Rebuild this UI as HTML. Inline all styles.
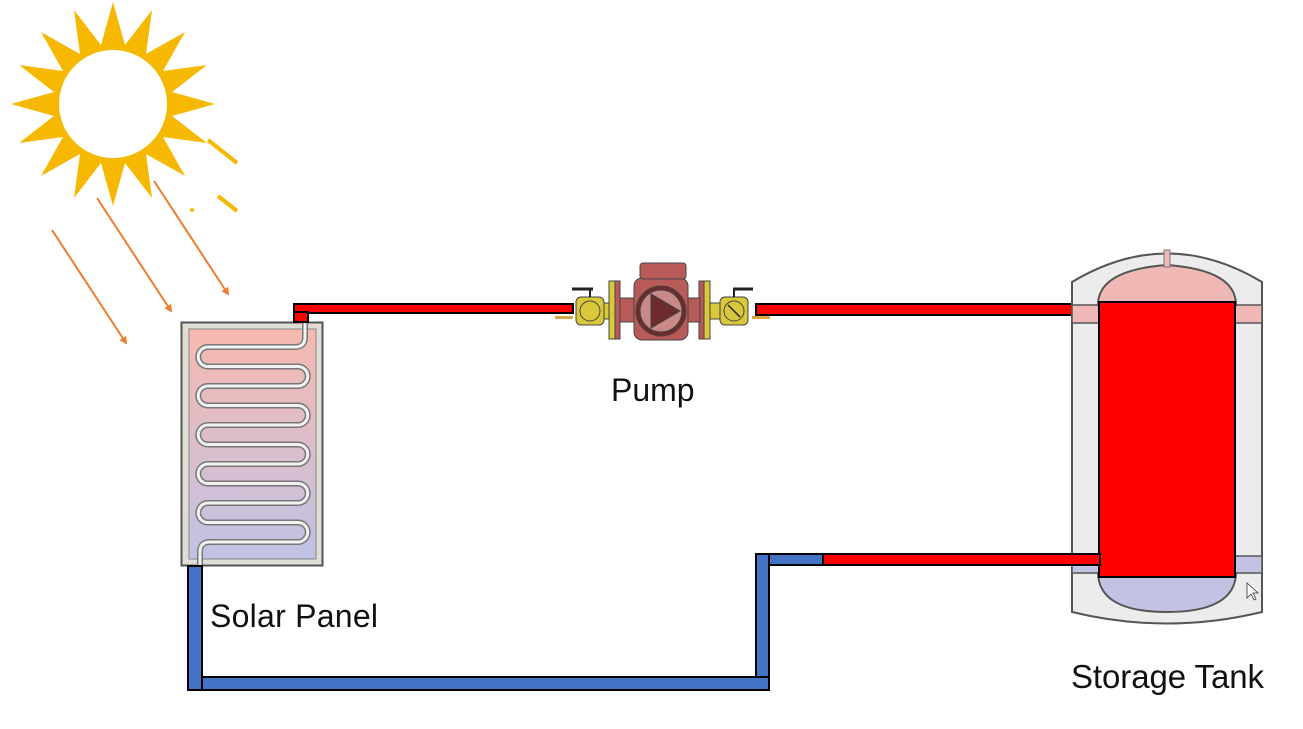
<!DOCTYPE html>
<html><head><meta charset="utf-8"><style>
html,body{margin:0;padding:0;background:#fff;}
svg{display:block;}
text{font-family:"Liberation Sans",Arial,sans-serif;fill:#111;}
</style></head><body>
<svg width="1303" height="729" viewBox="0 0 1303 729" xmlns="http://www.w3.org/2000/svg">
<defs>
<linearGradient id="pg" x1="0" y1="0" x2="0" y2="1">
<stop offset="0" stop-color="#f7b9ae"/><stop offset="1" stop-color="#c0c2e6"/>
</linearGradient>
<marker id="ah" markerWidth="8" markerHeight="8" refX="6" refY="4" orient="auto" markerUnits="userSpaceOnUse">
<path d="M0,0 L8,4 L0,8 Z" fill="#ec7c30"/>
</marker>
</defs>

<!-- Sun -->
<g transform="translate(113,104)">
<polygon fill="#f6b800" points="0,-102 12,-59 39,-94 33,-50 72,-72 50,-33 94,-39 59,-12 102,0 59,12 94,39 50,33 72,72 33,50 39,94 12,59 0,102 -12,59 -39,94 -33,50 -72,72 -50,33 -94,39 -59,12 -102,0 -59,-12 -94,-39 -50,-33 -72,-72 -33,-50 -39,-94 -12,-59"/>
<circle r="54" fill="#fff"/>
</g>
<line x1="208" y1="140" x2="237" y2="163" stroke="#f6b800" stroke-width="4"/>
<line x1="218" y1="196" x2="237" y2="211" stroke="#f6b800" stroke-width="4"/>
<circle cx="192" cy="210" r="2" fill="#f6b800"/>
<!-- rays -->
<line x1="52" y1="230" x2="126" y2="343" stroke="#ec7c30" stroke-width="2" marker-end="url(#ah)"/>
<line x1="97" y1="198" x2="171" y2="311" stroke="#ec7c30" stroke-width="2" marker-end="url(#ah)"/>
<line x1="154" y1="181" x2="228" y2="294" stroke="#ec7c30" stroke-width="2" marker-end="url(#ah)"/>

<!-- Solar panel -->
<rect x="181.5" y="322.5" width="141" height="243" fill="#e0ddd4" stroke="#555" stroke-width="2"/>
<rect x="189" y="329" width="127" height="230" fill="url(#pg)" stroke="#888" stroke-width="1"/>
<g fill="none" stroke-linecap="round">
<path d="M305,315 L305,337 Q305,347 295,347 L208,347 A9.75,9.75 0 0 0 208,366.5 L298,366.5 A9.75,9.75 0 0 1 298,386 L208,386 A9.75,9.75 0 0 0 208,405.5 L298,405.5 A9.75,9.75 0 0 1 298,425 L208,425 A9.75,9.75 0 0 0 208,444.5 L298,444.5 A9.75,9.75 0 0 1 298,464 L208,464 A9.75,9.75 0 0 0 208,483.5 L298,483.5 A9.75,9.75 0 0 1 298,503 L208,503 A9.75,9.75 0 0 0 208,522.5 L298,522.5 A9.75,9.75 0 0 1 298,542 L210,542 Q200,542 200,552 L200,566" stroke="#777" stroke-width="6"/>
<path d="M305,315 L305,337 Q305,347 295,347 L208,347 A9.75,9.75 0 0 0 208,366.5 L298,366.5 A9.75,9.75 0 0 1 298,386 L208,386 A9.75,9.75 0 0 0 208,405.5 L298,405.5 A9.75,9.75 0 0 1 298,425 L208,425 A9.75,9.75 0 0 0 208,444.5 L298,444.5 A9.75,9.75 0 0 1 298,464 L208,464 A9.75,9.75 0 0 0 208,483.5 L298,483.5 A9.75,9.75 0 0 1 298,503 L208,503 A9.75,9.75 0 0 0 208,522.5 L298,522.5 A9.75,9.75 0 0 1 298,542 L210,542 Q200,542 200,552 L200,566" stroke="#f2f2f2" stroke-width="3"/>
</g>

<!-- top red pipe -->
<rect x="294" y="304" width="279" height="9" fill="#f00" stroke="#000" stroke-width="2"/>
<rect x="294" y="312" width="14" height="10" fill="#f00" stroke="#000" stroke-width="2"/>
<rect x="756" y="304" width="319" height="11" fill="#f00" stroke="#000" stroke-width="2"/>

<!-- Pump -->
<g stroke="#444" stroke-width="1">
<rect x="555" y="316" width="18" height="3" fill="#d9a640" stroke="none"/>
<rect x="752" y="316" width="18" height="3" fill="#d9a640" stroke="none"/>
<rect x="596" y="303" width="130" height="16" fill="#d8c83a"/>
<rect x="576" y="297" width="28" height="28" rx="5" fill="#d8c83a"/>
<circle cx="590" cy="311" r="10" fill="#d8c83a"/>
<rect x="720" y="297" width="28" height="28" rx="5" fill="#d8c83a"/>
<circle cx="734" cy="311" r="10" fill="#d8c83a"/>
<line x1="728" y1="305" x2="740" y2="317" stroke="#222" stroke-width="1.5"/>
<line x1="590" y1="297" x2="590" y2="290" stroke="#222" stroke-width="2"/>
<line x1="572" y1="289" x2="593" y2="289" stroke="#222" stroke-width="3"/>
<line x1="734" y1="297" x2="734" y2="290" stroke="#222" stroke-width="2"/>
<line x1="733" y1="289" x2="753" y2="289" stroke="#222" stroke-width="3"/>
<rect x="609" y="281" width="6" height="58" fill="#d8c83a"/>
<rect x="615" y="281" width="5" height="58" fill="#b85a58"/>
<rect x="704" y="281" width="6" height="58" fill="#d8c83a"/>
<rect x="699" y="281" width="5" height="58" fill="#b85a58"/>
<rect x="620" y="298" width="80" height="24" fill="#b85a58"/>
<rect x="634" y="278" width="54" height="62" rx="8" fill="#b85a58"/>
<rect x="640" y="263" width="46" height="16" rx="3" fill="#b85a58"/>
<circle cx="661" cy="311" r="25" fill="#6d2b2b"/>
<circle cx="661" cy="311" r="21" fill="#c98a87"/>
<polygon points="651,294 651,328 680,311" fill="#6d2b2b"/>
</g>

<!-- Storage tank -->
<path d="M1072,282 Q1167,225 1262,282 L1262,612 Q1167,635 1072,612 Z" fill="#ececec" stroke="#555" stroke-width="2"/>
<rect x="1072" y="305" width="190" height="18" fill="#f0b8b4" stroke="#555" stroke-width="1.5"/>
<rect x="1072" y="556" width="190" height="17" fill="#c2c3e2" stroke="#555" stroke-width="1.5"/>
<path d="M1098,305 Q1098,270 1167,265 Q1236,270 1236,305 Z" fill="#f0b8b4" stroke="#555" stroke-width="2"/>
<rect x="1164" y="250" width="6" height="17" fill="#f0b8b4" stroke="#777" stroke-width="1"/>
<path d="M1098,574 Q1100,612 1167,612 Q1234,612 1236,574 Z" fill="#c2c3e2" stroke="#555" stroke-width="2"/>
<rect x="1099" y="302" width="136" height="275" fill="#f00" stroke="#000" stroke-width="2"/>
<path d="M1247,583 L1247,598 L1251,594 L1254,600 L1256,599 L1253,593 L1258,593 Z" fill="#fff" stroke="#333" stroke-width="0.8"/>

<!-- bottom pipes -->
<rect x="823" y="554" width="277" height="11" fill="#f00" stroke="#000" stroke-width="2"/>
<rect x="756" y="554" width="67" height="11" fill="#4472c4" stroke="#000" stroke-width="2"/>
<rect x="756" y="554" width="13" height="136" fill="#4472c4" stroke="#000" stroke-width="2"/>
<rect x="188" y="677" width="581" height="13" fill="#4472c4" stroke="#000" stroke-width="2"/>
<rect x="188" y="566" width="14" height="124" fill="#4472c4" stroke="#000" stroke-width="2"/>

<!-- labels -->
<text x="611" y="401" font-size="32">Pump</text>
<text x="210" y="627" font-size="32" textLength="168">Solar Panel</text>
<text x="1071" y="688" font-size="33" textLength="193">Storage Tank</text>
</svg>
</body></html>
